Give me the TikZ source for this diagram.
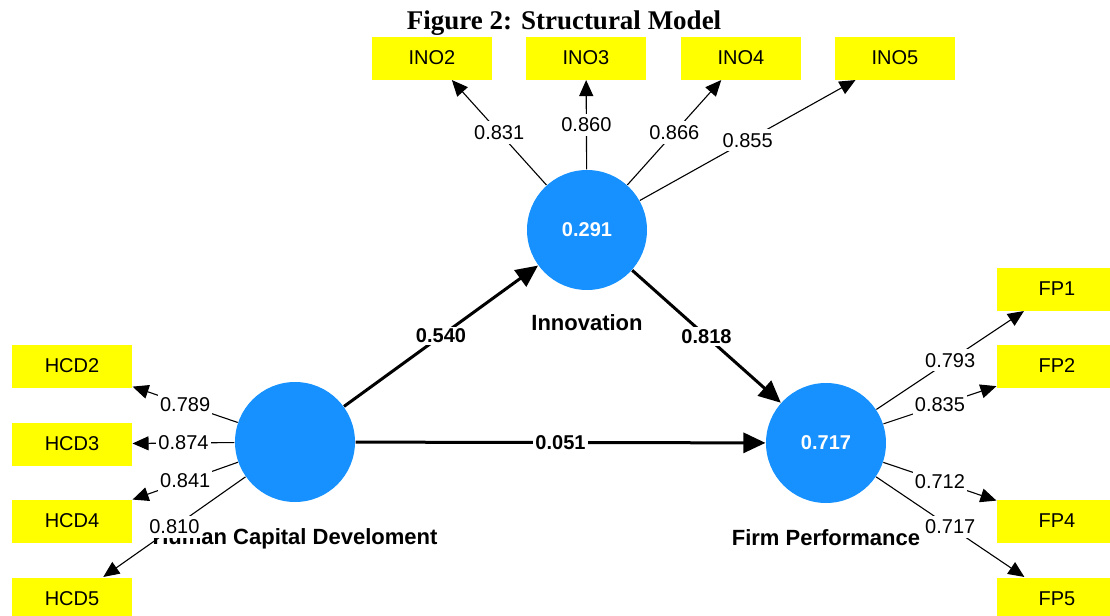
\documentclass[tikz,border=0pt]{standalone}
\usepackage{fontspec}
\setmainfont{Liberation Sans}
\newfontfamily\timesfont{Liberation Serif}
\usetikzlibrary{arrows.meta,positioning}
\definecolor{lvblue}{RGB}{22,145,255}
\definecolor{indyellow}{RGB}{255,255,0}

\begin{document}
\begin{tikzpicture}[x=0.5pt,y=-0.5pt,->,>={Triangle[length=8pt,width=7pt]},
                line width=0.55pt,
                lv/.style={circle,fill=lvblue,minimum size=60pt,inner sep=0pt,
                  font=\fontsize{10}{12}\selectfont\bfseries,text=white},
                ind/.style={rectangle,fill=indyellow,minimum width=60pt,
                  minimum height=21.5pt,inner sep=0pt,font=\fontsize{10}{12}\selectfont},
                lvname/.style={font=\fontsize{11}{13}\selectfont\bfseries,inner sep=0pt,
                  text height=8pt,text depth=2pt},
                ld/.style={fill=white,inner xsep=1pt,inner ysep=2pt,
                  font=\fontsize{10}{12}\selectfont},
                beta/.style={line width=1.5pt,>={Triangle[length=11pt,width=10pt]}},
                bl/.style={fill=white,inner sep=1pt,font=\fontsize{10}{12}\selectfont\bfseries}]

  \useasboundingbox (0,0) rectangle (1110,616);

  \node[font=\timesfont\fontsize{13.5}{16}\selectfont\bfseries] (title) at (564,23)
    {Figure 2: Structural Model};

  % latent variables
  \node[lv] (ino) at (587,230) {0.291};
  \node[lv] (hcd) at (295,442) {};
  \node[lv] (fp) at (826,443) {0.717};

  \node[lvname] (inoname) [below=11.5pt of ino] {Innovation};
  \node[lvname] (hcdname) [below=12.5pt of hcd] {Human Capital Develoment};
  \node[lvname] (fpname) [below=12.5pt of fp] {Firm Performance};

  % indicators
  \node[ind] (ino2) at (432,58) {INO2};
  \node[ind] (ino3) at (586,58) {INO3};
  \node[ind] (ino4) at (741,58) {INO4};
  \node[ind] (ino5) at (895,58) {INO5};

  \node[ind] (hcd2) at (72,366) {HCD2};
  \node[ind] (hcd3) at (72,444) {HCD3};
  \node[ind] (hcd4) at (72,521) {HCD4};
  \node[ind] (hcd5) at (72,599) {HCD5};

  \node[ind] (fp1) at (1057,289) {FP1};
  \node[ind] (fp2) at (1057,366) {FP2};
  \node[ind] (fp4) at (1057,521) {FP4};
  \node[ind] (fp5) at (1057,599) {FP5};

  % loadings
  \path
    (ino) edge node[ld] {0.831} (ino2)
          edge node[ld] {0.860} (ino3)
          edge node[ld] {0.866} (ino4)
          edge node[ld] {0.855} (ino5)
    (hcd) edge node[ld] {0.789} (hcd2)
          edge node[ld] {0.874} (hcd3)
          edge node[ld] {0.841} (hcd4)
          edge node[ld] {0.810} (hcd5)
    (fp)  edge node[ld] {0.793} (fp1)
          edge node[ld] {0.835} (fp2)
          edge node[ld] {0.712} (fp4)
          edge node[ld] {0.717} (fp5);

  % path coefficients
  \path[beta]
    (hcd) edge node[bl] {0.540} (ino)
          edge node[bl] {0.051} (fp)
    (ino) edge node[bl] {0.818} (fp);
\end{tikzpicture}
\end{document}
